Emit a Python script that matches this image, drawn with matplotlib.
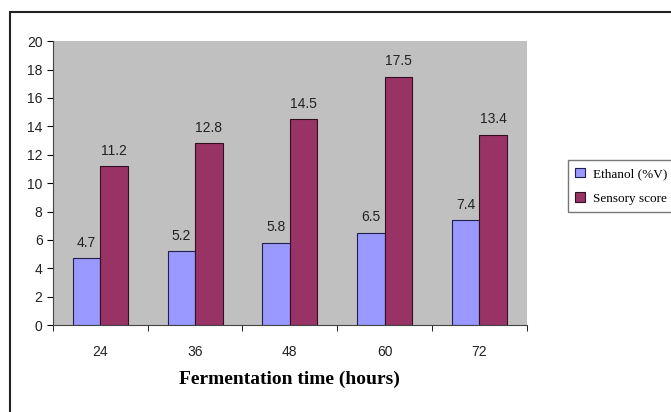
import numpy as np
import matplotlib.pyplot as plt
from matplotlib.patches import Rectangle

hours = ['24', '36', '48', '60', '72']
ethanol = [4.7, 5.2, 5.8, 6.5, 7.4]
sensory = [11.2, 12.8, 14.5, 17.5, 13.4]

fig = plt.figure(figsize=(6.71, 4.12), dpi=100)
ax = fig.add_axes([0.079, 0.211, 0.706, 0.689])
ax.set_facecolor('#c0c0c0')

x = np.arange(len(hours))
w = 0.29
b1 = ax.bar(x - w/2, ethanol, w, color='#9999ff', edgecolor='#202050', linewidth=0.8, label='Ethanol (%V)')
b2 = ax.bar(x + w/2, sensory, w, color='#993366', edgecolor='#301020', linewidth=0.8, label='Sensory score')

for bars, vals in ((b1, ethanol), (b2, sensory)):
    for r, v in zip(bars, vals):
        ax.text(r.get_x() + r.get_width()/2, v + 0.6, f'{v:.1f}', ha='center', va='bottom',
                fontsize=10, family='Liberation Sans', color='#222222')

ax.set_xlim(-0.5, len(hours) - 0.5)
ax.set_ylim(0, 20)
ax.set_yticks(range(0, 21, 2))
ax.tick_params(axis='y', labelsize=10, length=4, direction='out', labelcolor='#222222')
ax.set_xticks(x)
ax.set_xticklabels(hours, fontsize=10, family='Liberation Sans', color='#222222')
ax.tick_params(axis='x', length=0, pad=14)
# tick marks sit between the groups
ax.set_xticks(np.arange(-0.5, len(hours)), minor=True)
ax.tick_params(axis='x', which='minor', length=4, direction='out')
for lab in ax.get_yticklabels():
    lab.set_family('Liberation Sans')

for s in ['top', 'right']:
    ax.spines[s].set_visible(False)
ax.spines['left'].set_color('#444444')
ax.spines['bottom'].set_color('#444444')

ax.set_xlabel('Fermentation time (hours)', fontsize=14, fontweight='bold',
              family='Liberation Serif', labelpad=9)

fig.legend(handles=[b1, b2], loc='upper left', bbox_to_anchor=(0.836, 0.627),
           prop={'family': 'Liberation Serif', 'size': 9.5}, frameon=True, fancybox=False,
           edgecolor='#555555', handlelength=0.7, handleheight=0.7, borderpad=0.6,
           labelspacing=0.9, handletextpad=0.6)

# outer chart frame
fig.patches.append(Rectangle((0.015, -0.1), 1.1, 1.071, transform=fig.transFigure,
                             fill=False, edgecolor='#222222', linewidth=1.5))

fig.savefig('out.png', dpi=100)
